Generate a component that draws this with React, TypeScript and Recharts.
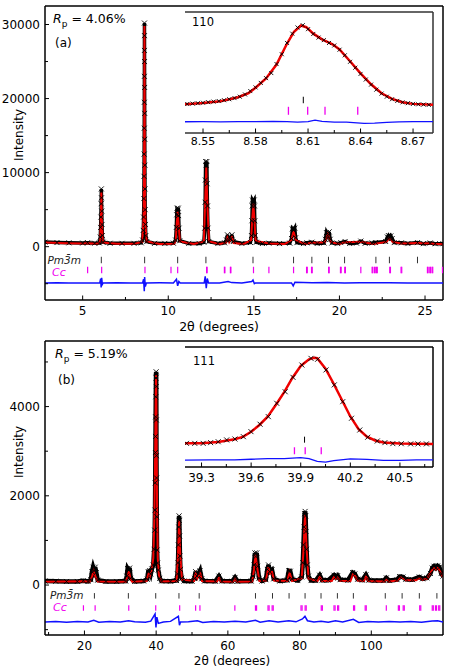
import React from 'react';
import { ComposedChart, Line, Scatter, XAxis, YAxis, ReferenceLine } from 'recharts';

// ---------- panel (a) ----------
const obsA = [
  [2.8, 620], [3.5, 560], [4.2, 520], [5.0, 490], [5.29, 540], [5.7, 470], [5.98, 500],
  [6.03, 1300], [6.05, 2600], [6.065, 4000], [6.08, 5800], [6.09, 7800], [6.1, 6600], [6.115, 4800], [6.13, 3000], [6.15, 1500], [6.19, 600],
  [6.6, 460], [7.3, 450], [8.0, 450], [8.42, 520],
  [8.5, 900], [8.54, 2200], [8.56, 4000], [8.575, 6500], [8.585, 9500], [8.592, 12500], [8.598, 16000], [8.603, 19500], [8.607, 23000], [8.609, 26500], [8.61, 30200],
  [8.612, 28500], [8.615, 25000], [8.619, 21500], [8.623, 18000], [8.628, 14500], [8.634, 11000], [8.642, 7800], [8.652, 5000], [8.667, 3000], [8.69, 1500], [8.75, 700],
  [9.2, 450], [9.8, 440], [10.3, 470],
  [10.43, 900], [10.47, 2600], [10.495, 4300], [10.515, 5200], [10.55, 5000], [10.585, 5200], [10.605, 4200], [10.63, 2500], [10.67, 800],
  [11.2, 440], [11.8, 440], [12.08, 600],
  [12.13, 2500], [12.155, 6000], [12.17, 9000], [12.185, 11500], [12.22, 11000], [12.255, 11500], [12.27, 8500], [12.29, 5500], [12.32, 2500], [12.37, 700],
  [12.9, 430], [13.29, 520], [13.4, 900], [13.46, 1600], [13.53, 900], [13.64, 1000], [13.72, 1600], [13.8, 700],
  [14.3, 430], [14.8, 560],
  [14.86, 1500], [14.885, 3500], [14.905, 5500], [14.92, 6300], [14.97, 6100], [15.02, 6300], [15.035, 5500], [15.055, 3500], [15.08, 1500], [15.14, 600],
  [15.5, 430], [15.88, 480], [16.5, 420], [17.1, 480],
  [17.2, 1100], [17.25, 2400], [17.32, 2200], [17.39, 2500], [17.44, 1200], [17.52, 550],
  [17.9, 420], [18.1, 520], [18.39, 600], [18.7, 430],
  [19.1, 500], [19.18, 1000], [19.24, 1900], [19.32, 1500], [19.4, 2000], [19.46, 1000], [19.56, 500],
  [19.9, 420], [20.08, 550], [20.33, 700], [20.6, 430], [21.0, 480], [21.25, 750], [21.5, 450], [21.91, 500], [22.1, 560],
  [22.7, 700], [22.8, 1300], [22.86, 1500], [22.93, 1200], [23.0, 1450], [23.08, 1100], [23.2, 550],
  [23.62, 520], [24.0, 420], [24.56, 550], [24.9, 410], [25.3, 500], [25.6, 400], [26.05, 400],
];
const calcA = [
  [2.8, 550], [4.0, 460], [5.0, 420], [5.29, 450], [5.9, 400], [6.02, 700], [6.06, 3500], [6.09, 7300], [6.12, 3500], [6.18, 550],
  [7.0, 390], [8.0, 380], [8.48, 650], [8.56, 3800], [8.585, 9500], [8.6, 18000], [8.61, 29800], [8.62, 20000], [8.64, 8000], [8.67, 2800], [8.74, 700],
  [9.5, 370], [10.35, 400], [10.44, 900], [10.5, 3200], [10.55, 4700], [10.6, 3200], [10.68, 700],
  [11.5, 360], [12.08, 700], [12.15, 5500], [12.22, 10700], [12.29, 5500], [12.38, 700],
  [13.0, 360], [13.38, 550], [13.46, 1300], [13.56, 600], [13.72, 1300], [13.82, 500],
  [14.4, 360], [14.84, 900], [14.9, 3500], [14.97, 5800], [15.04, 3500], [15.1, 800],
  [15.88, 420], [16.8, 360], [17.2, 900], [17.32, 2100], [17.44, 900], [18.0, 360], [18.39, 520],
  [19.15, 600], [19.32, 1700], [19.5, 600], [20.0, 360], [20.33, 600], [21.25, 650], [22.0, 380],
  [22.75, 650], [22.93, 1200], [23.1, 650], [23.62, 440], [24.56, 480], [25.3, 420], [26.05, 330],
];
const diffA = [
  [2.8, -4900], [3.5, -4880], [4.2, -4920], [5.0, -4890], [5.6, -4910], [6.0, -4900], [6.05, -4300], [6.08, -5500], [6.11, -4200], [6.15, -5100], [6.2, -4900],
  [7.0, -4880], [7.8, -4920], [8.5, -4900], [8.56, -4400], [8.6, -6000], [8.62, -4100], [8.66, -5400], [8.72, -4900],
  [9.5, -4880], [10.3, -4900], [10.48, -4400], [10.55, -5300], [10.62, -4700], [10.7, -4900], [11.5, -4920],
  [12.1, -4900], [12.16, -4000], [12.22, -5600], [12.28, -4300], [12.35, -4900], [13.0, -4890], [13.5, -4700], [13.7, -4850],
  [14.3, -4910], [14.88, -4700], [14.95, -4500], [15.03, -5000], [15.1, -4900], [16.0, -4890], [17.2, -4900], [17.3, -5300], [17.4, -4800],
  [18.4, -4880], [19.3, -4850], [20.3, -4900], [21.2, -4880], [22.9, -4860], [24.0, -4900], [25.0, -4890], [26.05, -4900],
];
const pm3mA = [6.09, 8.62, 10.55, 12.2, 14.95, 17.32, 18.39, 19.36, 20.3, 22.13, 22.92, 24.56];
const ccA = [5.29, 6.11, 8.64, 10.16, 10.55, 12.24, 12.27, 13.28, 13.31, 13.63, 13.66, 14.98, 15.88, 17.32, 18.08, 18.12, 18.37, 18.41,
  19.37, 19.4, 20.06, 20.1, 20.31, 20.35, 21.25, 21.91, 21.95, 22.05, 22.09, 22.17, 22.21, 22.94, 22.98, 23.6, 23.64,
  25.14, 25.18, 25.28, 25.32, 25.41, 25.45, 26.02];
const xTicksA = [5, 7.5, 10, 12.5, 15, 17.5, 20, 22.5, 25];
const xLabelsA = [5, 10, 15, 20, 25];
const yTicksA = [-5000, 0, 5000, 10000, 15000, 20000, 25000, 30000];
const yLabelsA = [0, 10000, 20000, 30000];

// inset (a): 110 reflection
const obsIA = [
  [8.541, 2300], [8.544, 2450], [8.547, 2600], [8.55, 2750], [8.553, 2950], [8.556, 3150], [8.559, 3350], [8.562, 3650], [8.565, 4000],
  [8.568, 4400], [8.571, 4900], [8.574, 5700], [8.577, 6900], [8.58, 8200], [8.583, 9800], [8.586, 11500], [8.589, 13300], [8.592, 16500],
  [8.595, 20000], [8.598, 24000], [8.601, 27300], [8.604, 29500], [8.607, 30300], [8.61, 28900], [8.613, 27200], [8.616, 25900], [8.619, 25000],
  [8.622, 24000], [8.625, 23100], [8.628, 21600], [8.631, 19600], [8.634, 17300], [8.637, 15200], [8.64, 13000], [8.643, 11000], [8.646, 9200],
  [8.649, 7400], [8.652, 6000], [8.655, 4900], [8.658, 4000], [8.661, 3400], [8.664, 2900], [8.667, 2600], [8.67, 2350], [8.673, 2200],
  [8.676, 2100], [8.679, 2000],
];
const calcIA = [
  [8.5397, 2250], [8.55, 2700], [8.56, 3300], [8.57, 4700], [8.576, 6200], [8.58, 8100], [8.586, 11400], [8.592, 16300], [8.598, 23800],
  [8.602, 28000], [8.606, 30200], [8.609, 29600], [8.613, 27300], [8.618, 25300], [8.624, 23500], [8.628, 21700], [8.634, 17500], [8.64, 13200],
  [8.646, 9300], [8.652, 6100], [8.658, 4100], [8.664, 2950], [8.67, 2350], [8.6814, 2000],
];
const diffIA = [
  [8.5397, -4000], [8.55, -3970], [8.56, -4030], [8.57, -3990], [8.58, -3960], [8.59, -3920], [8.598, -3980], [8.604, -4150], [8.61, -3950],
  [8.614, -3450], [8.618, -3900], [8.625, -4150], [8.632, -4100], [8.636, -4300], [8.642, -4550], [8.648, -4500], [8.655, -4250],
  [8.662, -4050], [8.67, -3990], [8.6814, -3990],
];
const pm3mIA = [8.6073];
const ccIA = [8.5988, 8.6098, 8.6197, 8.6384];
const xTicksIA = [8.55, 8.565, 8.58, 8.595, 8.61, 8.625, 8.64, 8.655, 8.67];
const xLabelsIA = [8.55, 8.58, 8.61, 8.64, 8.67];
const yTicksIA = [2000, 11000, 20000];

// ---------- panel (b) ----------
const obsB = [
  [9, 90], [12, 85], [15, 80], [18, 80], [19.7, 95], [21.0, 80],
  [21.8, 120], [22.1, 300], [22.4, 400], [22.7, 320], [23.0, 400], [23.3, 280], [23.7, 110],
  [26, 80], [29, 80], [31.5, 90], [31.8, 200], [32.05, 370], [32.35, 330], [32.6, 380], [32.9, 150],
  [34, 80], [36.5, 90], [37.5, 130], [37.8, 300], [38.2, 320], [38.5, 250], [38.8, 360], [39.2, 450], [39.45, 800], [39.6, 1230],
  [39.68, 1680], [39.74, 2290], [39.79, 2970], [39.82, 3330], [39.86, 3770], [39.9, 4220], [39.95, 4640], [40.0, 4780], [40.03, 4450],
  [40.06, 3700], [40.09, 2900], [40.12, 2400], [40.17, 1530], [40.25, 785], [40.38, 493], [40.6, 336], [41.0, 150], [41.5, 90],
  [44, 85], [45.7, 100], [45.95, 250], [46.1, 500], [46.2, 900], [46.3, 1300], [46.4, 1550], [46.47, 1450], [46.54, 1100], [46.64, 650],
  [46.78, 350], [47.1, 150], [47.8, 90],
  [50, 85], [50.7, 150], [51.0, 300], [51.4, 200], [51.9, 260], [52.25, 320], [52.7, 140], [53.5, 90],
  [56.5, 85], [57.5, 200], [58.3, 90], [61.2, 85], [62.0, 170], [62.7, 85],
  [66.5, 90], [67.0, 200], [67.3, 450], [67.55, 720], [67.8, 640], [68.05, 720], [68.3, 420], [68.7, 150], [69.5, 90],
  [70.6, 120], [71.0, 350], [71.35, 450], [71.7, 300], [72.3, 340], [72.8, 140], [74.5, 90],
  [76.5, 110], [77.0, 320], [77.4, 310], [77.9, 130], [79.5, 100],
  [80.6, 180], [80.9, 500], [81.08, 900], [81.26, 1300], [81.4, 1600], [81.55, 1650], [81.68, 1550], [81.8, 1200], [81.95, 800],
  [82.15, 450], [82.45, 200], [83.2, 100],
  [84.5, 100], [85.6, 220], [86.3, 110], [88, 110], [89.6, 220], [90.1, 170], [90.6, 210], [91.3, 120],
  [93.5, 110], [94.8, 280], [95.4, 250], [96.2, 130], [97.5, 110], [98.5, 230], [99.3, 110],
  [101, 100], [103.5, 100], [104.2, 160], [105, 100], [107.2, 120], [107.9, 190], [108.8, 180], [109.6, 130],
  [111.5, 120], [113.4, 180], [114.3, 140], [115.5, 160], [116.5, 260], [117.0, 380], [117.5, 420], [118.0, 380], [118.5, 430],
  [119.0, 400], [119.5, 260], [120, 200],
];
const calcB = [
  [9, 75], [19.7, 85], [21.5, 80], [22.1, 180], [22.6, 330], [23.1, 180], [23.7, 80], [31.5, 75], [32.0, 180], [32.4, 310], [32.8, 160],
  [33.3, 75], [37.3, 90], [37.9, 260], [38.3, 200], [38.7, 330], [39.2, 600], [39.5, 1500], [39.7, 2800], [39.85, 4000], [39.98, 4700],
  [40.1, 3800], [40.25, 1800], [40.45, 600], [40.8, 200], [41.5, 80], [45.7, 90], [46.1, 700], [46.42, 1450], [46.7, 700], [47.2, 120],
  [50.6, 90], [51.0, 260], [51.5, 150], [52.25, 280], [52.8, 90], [57.0, 80], [57.5, 170], [58.0, 80], [61.5, 75], [62.0, 150], [62.5, 75],
  [66.8, 80], [67.3, 350], [67.7, 680], [68.2, 380], [68.8, 90], [70.6, 100], [71.3, 400], [71.8, 260], [72.3, 300], [72.9, 100],
  [76.6, 90], [77.2, 290], [77.9, 90], [80.6, 150], [81.1, 800], [81.5, 1580], [81.9, 900], [82.5, 140], [85.0, 90], [85.6, 190],
  [86.3, 90], [89.0, 90], [89.6, 190], [90.1, 140], [90.6, 180], [91.3, 95], [94.2, 90], [94.9, 250], [95.4, 220], [96.2, 100],
  [98.0, 90], [98.5, 200], [99.2, 90], [103.6, 80], [104.2, 140], [104.9, 80], [107.3, 100], [108.0, 170], [108.8, 160], [109.6, 110],
  [112.5, 110], [113.4, 160], [114.3, 120], [115.5, 140], [117.0, 340], [117.5, 390], [118.0, 350], [118.5, 400], [119.2, 300], [120, 180],
];
const diffB = [
  [9, -830], [12, -815], [15, -835], [18, -820], [21, -830], [22.6, -790], [24, -835], [27, -820], [30, -830], [32.3, -800], [34, -825],
  [37, -835], [38.5, -810], [39.7, -650], [39.95, -950], [40.2, -720], [40.6, -860], [42, -830], [44, -815], [46.2, -700], [46.5, -900],
  [46.8, -830], [49, -825], [51.5, -800], [53, -840], [56, -820], [59, -830], [62, -810], [65, -830], [67.7, -790], [69, -835],
  [71.5, -800], [74, -830], [77, -800], [79, -825], [80.8, -760], [81.5, -700], [82.2, -800], [84, -830], [86, -810], [88, -835],
  [90, -800], [92, -830], [95, -770], [96.5, -840], [99, -820], [102, -830], [105, -815], [108, -830], [111, -820], [114, -835],
  [117, -805], [118.5, -800], [120, -830],
];
const pm3mB = [22.78, 32.25, 39.88, 46.36, 52.0, 67.7, 72.45, 77.07, 81.53, 85.98, 90.55, 95.0, 103.9, 108.6, 113.4, 118.3];
const ccB = [19.72, 22.98, 32.36, 39.88, 46.56, 51.01, 52.21, 61.95, 67.7, 68.0, 71.2, 71.5, 72.35, 72.65, 80.4, 80.7, 81.55, 81.85,
  86.05, 86.35, 89.6, 89.9, 90.6, 90.9, 95.05, 95.35, 98.3, 98.6, 104.19, 107.55, 107.85, 108.9, 109.2, 113.5, 113.8, 117.0, 117.3,
  117.9, 118.2, 118.8, 119.1];
const xTicksB = [10, 20, 30, 40, 50, 60, 70, 80, 90, 100, 110];
const xLabelsB = [20, 40, 60, 80, 100];
const yTicksB = [-1000, 0, 1000, 2000, 3000, 4000, 5000];
const yLabelsB = [0, 2000, 4000];

// inset (b): 111 reflection
const obsIB = [
  [39.209, 60], [39.259, 60], [39.31, 60], [39.355, 100], [39.401, 150], [39.452, 250], [39.502, 300], [39.553, 430], [39.599, 710],
  [39.654, 1120], [39.704, 1540], [39.755, 2280], [39.806, 2920], [39.853, 3720], [39.907, 4400], [39.962, 4770], [40.002, 4720],
  [40.053, 4130], [40.103, 3300], [40.154, 2370], [40.207, 1450], [40.257, 800], [40.305, 400], [40.363, 190], [40.409, 100],
  [40.457, 45], [40.508, 40], [40.565, 30], [40.609, 30], [40.66, 30],
];
const calcIB = [
  [39.2, 60], [39.3, 65], [39.4, 140], [39.5, 290], [39.55, 420], [39.6, 700], [39.65, 1080], [39.7, 1540], [39.75, 2200], [39.8, 2900],
  [39.85, 3700], [39.9, 4350], [39.95, 4720], [39.98, 4800], [40.0, 4780], [40.05, 4200], [40.1, 3350], [40.15, 2450], [40.2, 1550],
  [40.25, 850], [40.3, 430], [40.35, 220], [40.4, 110], [40.5, 50], [40.6, 35], [40.7, 30],
];
const diffIB = [
  [39.2, -870], [39.35, -860], [39.5, -850], [39.6, -820], [39.7, -790], [39.8, -790], [39.9, -730], [39.95, -780], [40.0, -940],
  [40.05, -980], [40.1, -900], [40.2, -800], [40.3, -830], [40.4, -880], [40.5, -880], [40.6, -860], [40.7, -860],
];
const pm3mIB = [39.923];
const ccIB = [39.862, 39.927, 40.024];
const xTicksIB = [39.3, 39.45, 39.6, 39.75, 39.9, 40.05, 40.2, 40.35, 40.5, 40.65];
const xLabelsIB = [39.3, 39.6, 39.9, 40.2, 40.5];
const yTicksIB = [0, 2000, 4000];

const RED = '#f00000';
const BLUE = '#1010ff';
const MAGENTA = '#f000f0';

const toPts = (a: number[][]) => a.map(([x, y]) => ({ x, y }));
const atLevel = (xs: number[], y: number) => xs.map((x) => ({ x, y }));

const crossShape = (s: number) => (p: any) => {
  const { cx, cy } = p;
  if (cx == null || cy == null) return <g />;
  const h = s / 2;
  return (
    <path
      d={`M${cx - h},${cy - h}L${cx + h},${cy + h}M${cx - h},${cy + h}L${cx + h},${cy - h}`}
      stroke="#000"
      strokeWidth={0.9}
      fill="none"
    />
  );
};

const barShape = (len: number, color: string, w: number) => (p: any) => (
  <line x1={p.cx} x2={p.cx} y1={p.cy - len / 2} y2={p.cy + len / 2} stroke={color} strokeWidth={w} />
);

const leftTick = (labels: number[], font: number) => (p: any) => {
  const { x, y, payload } = p;
  const major = labels.includes(payload.value);
  return (
    <g>
      <line x1={x} x2={x + (major ? 4 : 3)} y1={y} y2={y} stroke="#000" strokeWidth={1} />
      {major && (
        <text x={x - 5} y={y + 4.4} textAnchor="end" fontSize={font} fill="#000">
          {payload.value}
        </text>
      )}
    </g>
  );
};

const bottomTick = (labels: number[], font: number, dy: number) => (p: any) => {
  const { x, y, payload } = p;
  const major = labels.includes(payload.value);
  return (
    <g>
      <line x1={x} x2={x} y1={y} y2={y - (major ? 4.5 : 3)} stroke="#000" strokeWidth={1} />
      {major && (
        <text x={x} y={y + dy} textAnchor="middle" fontSize={font} fill="#000">
          {payload.value}
        </text>
      )}
    </g>
  );
};

function Panel(props: any) {
  const { top, h, axisH, obs, calc, diff, pm3m, cc, xDom, yDom, xTicks, xLabels, yTicks, yLabels, pmLevel, ccLevel, barLen, obsW } = props;
  const frame = { stroke: '#000', strokeWidth: 1.5 };
  return (
    <div style={{ position: 'absolute', left: 0, top }}>
      <ComposedChart width={450} height={h} margin={{ top: 6, right: 7, left: 0, bottom: 0 }}>
        <XAxis dataKey="x" type="number" domain={xDom} allowDataOverflow ticks={xTicks} interval={0} tickSize={0}
          tickMargin={0} tickLine={false} axisLine={frame} height={axisH} tick={bottomTick(xLabels, 12, 15)} />
        <YAxis dataKey="y" type="number" domain={yDom} allowDataOverflow ticks={yTicks} interval={0} tickSize={0}
          tickMargin={0} tickLine={false} axisLine={frame} width={45} tick={leftTick(yLabels, 12)} />
        <ReferenceLine y={yDom[1]} stroke="#000" strokeWidth={1.5} />
        <ReferenceLine x={xDom[1]} stroke="#000" strokeWidth={1.5} />
        <Line data={toPts(obs)} dataKey="y" stroke="#000" strokeWidth={obsW} dot={false} isAnimationActive={false} />
        <Scatter data={toPts(obs)} shape={crossShape(5)} isAnimationActive={false} />
        <Line data={toPts(calc)} dataKey="y" stroke={RED} strokeWidth={2} dot={false} isAnimationActive={false} />
        <Line data={toPts(diff)} dataKey="y" stroke={BLUE} strokeWidth={1.5} dot={false} isAnimationActive={false} />
        <Scatter data={atLevel(pm3m, pmLevel)} shape={barShape(barLen, '#333', 1)} isAnimationActive={false} />
        <Scatter data={atLevel(cc, ccLevel)} shape={barShape(barLen, MAGENTA, 1.2)} isAnimationActive={false} />
      </ComposedChart>
    </div>
  );
}

function Inset(props: any) {
  const { left, top, plotH, axisH, obs, calc, diff, pm3m, cc, xDom, yDom, xTicks, xLabels, yTicks, pmLevel, ccLevel, font, labelDy, frameColor, crossSize, pmLen, ccLen } = props;
  const frame = { stroke: frameColor, strokeWidth: 1.5 };
  return (
    <div style={{ position: 'absolute', left, top }}>
      <ComposedChart width={252} height={plotH + 2 + axisH} margin={{ top: 2, right: 2, left: 2, bottom: 0 }}>
        <XAxis dataKey="x" type="number" domain={xDom} allowDataOverflow ticks={xTicks} interval={0} tickSize={0}
          tickMargin={0} tickLine={false} axisLine={frame} height={axisH} tick={bottomTick(xLabels, font, labelDy)} />
        <YAxis dataKey="y" type="number" domain={yDom} allowDataOverflow ticks={yTicks} interval={0} tickSize={0}
          tickMargin={0} tickLine={false} axisLine={frame} width={0} tick={leftTick([], font)} />
        <ReferenceLine y={yDom[1]} stroke={frameColor} strokeWidth={1.5} />
        <ReferenceLine x={xDom[1]} stroke={frameColor} strokeWidth={1.5} />
        <Line data={toPts(calc)} dataKey="y" stroke={RED} strokeWidth={2.5} dot={false} isAnimationActive={false} />
        <Scatter data={toPts(obs)} shape={crossShape(crossSize)} isAnimationActive={false} />
        <Line data={toPts(diff)} dataKey="y" stroke={BLUE} strokeWidth={1.3} dot={false} isAnimationActive={false} />
        <Scatter data={atLevel(pm3m, pmLevel)} shape={barShape(pmLen, '#000', 1)} isAnimationActive={false} />
        <Scatter data={atLevel(cc, ccLevel)} shape={barShape(ccLen, MAGENTA, 1.3)} isAnimationActive={false} />
      </ComposedChart>
    </div>
  );
}

export default function App() {
  return (
    <div style={{ position: 'absolute', left: 0, top: 0, width: 450, height: 666, background: '#fff', fontFamily: 'DejaVu Sans', overflow: 'hidden' }}>
      <Panel top={0} h={335} axisH={35} obs={obsA} calc={calcA} diff={diffA} pm3m={pm3mA} cc={ccA}
        xDom={[2.8, 26.05]} yDom={[-7200, 32500]} xTicks={xTicksA} xLabels={xLabelsA} yTicks={yTicksA} yLabels={yLabelsA}
        pmLevel={-1800} ccLevel={-3150} barLen={6.5} obsW={3.5} />
      <Panel top={335} h={331} axisH={31} obs={obsB} calc={calcB} diff={diffB} pm3m={pm3mB} cc={ccB}
        xDom={[9, 120]} yDom={[-1120, 5470]} xTicks={xTicksB} xLabels={xLabelsB} yTicks={yTicksB} yLabels={yLabelsB}
        pmLevel={-242} ccLevel={-515} barLen={5.5} obsW={4.5} />
      <Inset left={183} top={10} plotH={121} axisH={16} obs={obsIA} calc={calcIA} diff={diffIA} pm3m={pm3mIA} cc={ccIA}
        xDom={[8.5397, 8.6814]} yDom={[-8000, 35000]} xTicks={xTicksIA} xLabels={xLabelsIA} yTicks={yTicksIA}
        pmLevel={3730} ccLevel={-110} font={11} labelDy={12} frameColor="#333" crossSize={4} pmLen={6.5} ccLen={8} />
      <Inset left={183} top={345} plotH={120} axisH={18} obs={obsIB} calc={calcIB} diff={diffIB} pm3m={pm3mIB} cc={ccIB}
        xDom={[39.2, 40.7]} yDom={[-1250, 5400]} xTicks={xTicksIB} xLabels={xLabelsIB} yTicks={yTicksIB}
        pmLevel={264} ccLevel={-350} font={12} labelDy={14.5} frameColor="#000" crossSize={5} pmLen={6} ccLen={7} />
      <svg width={450} height={666} style={{ position: 'absolute', left: 0, top: 0, pointerEvents: 'none' }} fontFamily="DejaVu Sans">
        <text x={23} y={135} transform="rotate(-90 23 135)" textAnchor="middle" fontSize={12}>Intensity</text>
        <text x={23} y={452} transform="rotate(-90 23 452)" textAnchor="middle" fontSize={12}>Intensity</text>
        <text x={219} y={331} textAnchor="middle" fontSize={12.5}>2θ (degrees)</text>
        <text x={232} y={664.5} textAnchor="middle" fontSize={12}>2θ (degrees)</text>
        <text x={53} y={23} fontSize={12.5}>
          <tspan fontStyle="italic">R</tspan>
          <tspan fontSize={9} dy={4}>p</tspan>
          <tspan dy={-4}>{' = 4.06%'}</tspan>
        </text>
        <text x={55} y={47} fontSize={12}>(a)</text>
        <text x={55} y={358} fontSize={12.5}>
          <tspan fontStyle="italic">R</tspan>
          <tspan fontSize={9} dy={4}>p</tspan>
          <tspan dy={-4}>{' = 5.19%'}</tspan>
        </text>
        <text x={58} y={384} fontSize={12}>(b)</text>
        <text x={47.5} y={264} fontSize={10.5} fontStyle="italic" fill="#222">{'Pm3\u0304m'}</text>
        <text x={52} y={276} fontSize={11} fontStyle="italic" fill={MAGENTA}>Cc</text>
        <text x={50} y={599} fontSize={10.5} fontStyle="italic" fill="#222">{'Pm3\u0304m'}</text>
        <text x={53} y={611} fontSize={11} fontStyle="italic" fill={MAGENTA}>Cc</text>
        <text x={192} y={26} fontSize={11.5}>110</text>
        <text x={193} y={365} fontSize={11.5}>111</text>
      </svg>
    </div>
  );
}
